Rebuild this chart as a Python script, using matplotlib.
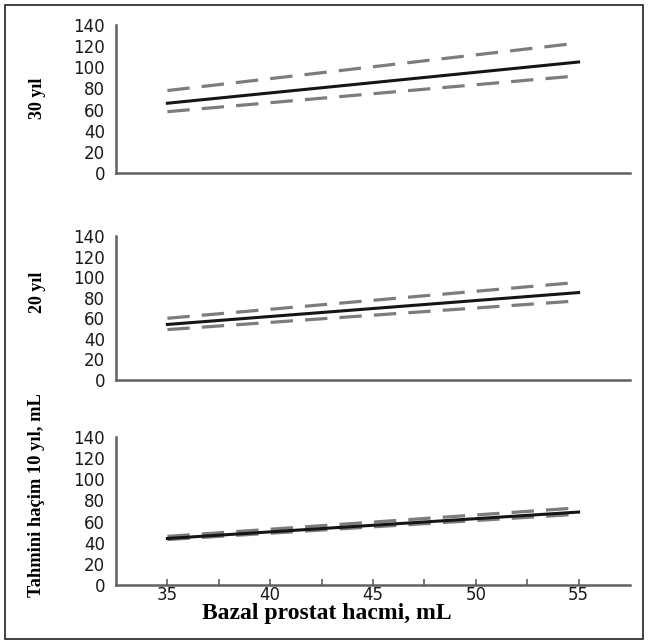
import matplotlib
matplotlib.use("Agg")
import matplotlib.pyplot as plt
from matplotlib.patches import Rectangle

x_vals = [35, 55]
panel_labels = ["30 yıl", "20 yıl", "Tahmini haçim 10 yıl, mL"]
mean_30 = [66, 105]; upper_30 = [78, 123]; lower_30 = [58, 92]
mean_20 = [54, 85]; upper_20 = [60, 95]; lower_20 = [49, 77]
mean_10 = [44, 69]; upper_10 = [46, 73]; lower_10 = [43, 67]
y_ticks = [0, 20, 40, 60, 80, 100, 120, 140]
x_ticks = [35, 40, 45, 50, 55]
x_label = "Bazal prostat hacmi, mL"

W, H = 649, 643
fig = plt.figure(figsize=(W/100, H/100), dpi=100)

def fy(p):
    return 1 - p/H

panels = [
    (mean_30, upper_30, lower_30, 25, 173),
    (mean_20, upper_20, lower_20, 236, 380),
    (mean_10, upper_10, lower_10, 437, 585),
]
x0, x1 = 116/W, 630/W
axes = []
for m, u, l, top, bot in panels:
    ax = fig.add_axes([x0, fy(bot), x1 - x0, fy(top) - fy(bot)])
    ax.plot(x_vals, u, color="#7c7c7c", lw=2.3, dashes=(7, 3.8))
    ax.plot(x_vals, l, color="#7c7c7c", lw=2.3, dashes=(7, 3.8))
    ax.plot(x_vals, m, color="#151515", lw=2.2)
    ax.set_xlim(32.5, 57.5)
    ax.set_ylim(0, 140)
    ax.set_yticks(y_ticks)
    ax.set_yticklabels([str(v) for v in y_ticks], fontsize=12, color="#1a1a1a")
    ax.tick_params(axis="y", length=0, pad=8)
    for s in ["top", "right"]:
        ax.spines[s].set_visible(False)
    for s in ["left", "bottom"]:
        ax.spines[s].set_color("#606060")
        ax.spines[s].set_linewidth(1.8)
    axes.append(ax)

for ax in axes[:2]:
    ax.set_xticks([])
ax3 = axes[2]
ax3.set_xticks(x_ticks)
ax3.set_xticks([37.5, 42.5, 47.5, 52.5], minor=True)
ax3.set_xticklabels([str(v) for v in x_ticks], fontsize=12, color="#1a1a1a")
ax3.tick_params(axis="x", which="both", direction="in", length=4, width=1.2,
                color="#606060", pad=0.5)

serif = "Liberation Serif"
fig.text(37/W, fy(98), panel_labels[0], rotation=90, ha="center", va="center",
         fontsize=13, fontweight="bold", family=serif)
fig.text(37/W, fy(292), panel_labels[1], rotation=90, ha="center", va="center",
         fontsize=13, fontweight="bold", family=serif)
fig.text(37/W, fy(495), panel_labels[2], rotation=90, ha="center", va="center",
         fontsize=13.3, fontweight="bold", family=serif)
fig.text(327/W, fy(614), x_label, ha="center", va="center",
         fontsize=17, fontweight="bold", family=serif)

fig.patches.append(Rectangle((5/W, fy(639)), 638/W, (639-5)/H, transform=fig.transFigure,
                             fill=False, edgecolor="#222222", lw=1.2))
fig.savefig("out.png", dpi=100)
